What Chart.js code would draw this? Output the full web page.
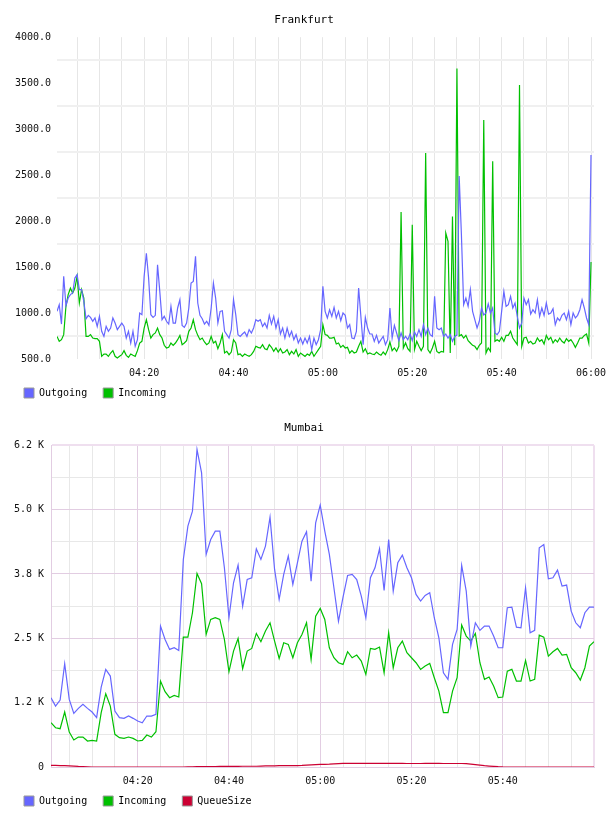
<!DOCTYPE html>
<html>
<head>
<meta charset="utf-8">
<title>Frankfurt / Mumbai</title>
<script src="https://cdn.jsdelivr.net/npm/chart.js@4.4.0/dist/chart.umd.min.js"></script>
<style>
  html, body { margin: 0; padding: 0; background: #fff; }
  canvas { display: block; }
</style>
</head>
<body>
<canvas id="frankfurtChart" width="608" height="408"></canvas>
<canvas id="mumbaiChart" width="608" height="408"></canvas>
<script>
// === Time axis (minutes after 04:00) ===
const timeTicks = [5, 10, 15, 20, 25, 30, 35, 40, 45, 50, 55, 60, 65, 70, 75, 80, 85, 90, 95, 100, 105, 110, 115, 120];
const frankfurtTimeAt = [20, 40, 60, 80, 100, 120];
const frankfurtTimeLabels = ["04:20", "04:40", "05:00", "05:20", "05:40", "06:00"];
const mumbaiTimeAt = [20, 40, 60, 80, 100];
const mumbaiTimeLabels = ["04:20", "04:40", "05:00", "05:20", "05:40"];

// Frankfurt: one sample every 30 s, starting 04:00:30
const frankfurtStart = 0.5;
const frankfurtStep = 0.5;
// Mumbai: one sample per minute, starting 04:01
const mumbaiStart = 1;
const mumbaiStep = 1;

// === Frankfurt values ===
const frankfurtOutgoing = [
  1018, 1090, 880, 1400, 1080, 1163, 1200, 1218, 1380, 1417,
  1254, 1254, 1127, 938, 975, 953, 910, 946, 855, 964,
  801, 746, 855, 801, 837, 946, 891, 819, 855, 891,
  855, 728, 801, 674, 801, 638, 710, 1000, 982, 1399,
  1650, 1380, 982, 953, 975, 1525, 1236, 928, 964, 910,
  880, 1073, 891, 891, 1055, 1145, 866, 844, 891, 1055,
  1326, 1344, 1616, 1109, 975, 938, 880, 910, 866, 1055,
  1326, 1163, 891, 1018, 1025, 801, 765, 728, 819, 1145,
  982, 765, 746, 772, 794, 746, 819, 783, 837, 928,
  910, 928, 855, 891, 837, 975, 880, 964, 837, 928,
  772, 837, 728, 837, 746, 801, 710, 765, 674, 728,
  663, 728, 674, 746, 602, 728, 656, 710, 819, 1290,
  1018, 946, 1036, 964, 1062, 946, 1018, 917, 1000, 975,
  837, 873, 728, 721, 801, 1272, 964, 656, 953, 837,
  772, 772, 692, 757, 674, 710, 746, 656, 710, 1055,
  728, 866, 783, 699, 783, 710, 746, 710, 772, 699,
  794, 746, 819, 746, 873, 765, 837, 765, 746, 1181,
  837, 819, 837, 746, 772, 728, 765, 692, 746, 760,
  2490, 1850, 1091, 1163, 1073, 1254, 1018, 928, 837, 910,
  1055, 980, 1000, 1100, 1000, 1055, 783, 765, 801, 1018,
  1236, 1073, 1091, 1181, 1055, 1109, 964, 837, 891, 1163,
  1091, 1145, 989, 1036, 1000, 1145, 964, 1055, 975, 1109,
  989, 1000, 1047, 873, 946, 917, 975, 1000, 928, 1018,
  873, 1000, 946, 975, 1036, 1145, 1055, 946, 873, 2720
];
const frankfurtIncoming = [
  746, 692, 710, 765, 1073, 1200, 1270, 1218, 1272, 1399,
  1109, 1254, 1163, 746, 746, 765, 728, 721, 721, 692,
  529, 554, 554, 529, 565, 591, 529, 511, 529, 547,
  591, 540, 518, 554, 540, 529, 591, 674, 692, 837,
  928, 819, 728, 765, 783, 837, 765, 728, 649, 620,
  627, 674, 649, 674, 710, 757, 656, 674, 699, 801,
  837, 928, 819, 757, 710, 728, 685, 656, 674, 746,
  674, 692, 612, 674, 765, 565, 583, 547, 576, 710,
  674, 547, 554, 529, 554, 540, 529, 547, 583, 638,
  627, 620, 656, 612, 602, 656, 627, 583, 620, 576,
  612, 565, 576, 602, 547, 583, 554, 602, 529, 565,
  547, 529, 554, 540, 583, 529, 565, 602, 638, 873,
  765, 757, 728, 728, 736, 663, 674, 627, 649, 620,
  627, 565, 591, 565, 576, 638, 692, 576, 612, 554,
  565, 554, 547, 576, 554, 540, 576, 547, 602, 685,
  591, 620, 583, 638, 2100, 620, 675, 612, 583, 1960,
  602, 692, 638, 591, 638, 2740, 602, 565, 620, 692,
  583, 565, 583, 576, 1870, 1780, 565, 2050, 650, 3660,
  750, 765, 728, 757, 699, 674, 649, 638, 602, 649,
  674, 3100, 565, 620, 583, 2650, 692, 710, 692, 736,
  692, 757, 757, 801, 728, 692, 656, 3480, 638, 728,
  736, 674, 692, 663, 674, 728, 692, 710, 663, 757,
  710, 736, 674, 710, 685, 728, 692, 674, 721, 692,
  710, 674, 627, 674, 728, 728, 757, 772, 674, 1555
];
const frankfurtYTicks = [500, 750, 1000, 1250, 1500, 1750, 2000, 2250, 2500, 2750, 3000, 3250, 3500, 3750, 4000];
const frankfurtYAt = [500, 1000, 1500, 2000, 2500, 3000, 3500, 4000];
const frankfurtYLabels = ["500.0", "1000.0", "1500.0", "2000.0", "2500.0", "3000.0", "3500.0", "4000.0"];

// === Mumbai values ===
const mumbaiOutgoing = [
  1346, 1184, 1300, 2006, 1313, 1042, 1139, 1216, 1139, 1068,
  958, 1553, 1896, 1766, 1087, 958, 945, 990, 945, 893,
  860, 990, 990, 1022, 2737, 2478, 2284, 2316, 2264, 4030,
  4678, 4969, 6166, 5713, 4128, 4419, 4581, 4581, 3869, 2900,
  3578, 3921, 3125, 3643, 3675, 4238, 4031, 4290, 4853, 3837,
  3254, 3740, 4096, 3546, 3966, 4387, 4568, 3610, 4742, 5085,
  4581, 4128, 3481, 2830, 3300, 3720, 3740, 3640, 3319, 2900,
  3675, 3869, 4238, 3429, 4419, 3416, 3966, 4115, 3869, 3675,
  3352, 3222, 3332, 3384, 2899, 2510, 1831, 1701, 2381, 2672,
  3914, 3416, 2349, 2801, 2653, 2737, 2737, 2543, 2316, 2316,
  3093, 3106, 2717, 2704, 3481, 2607, 2653, 4257, 4322, 3656,
  3675, 3824, 3513, 3533, 3028, 2801, 2704, 2996, 3106, 3106
];
const mumbaiIncoming = [
  860, 763, 744, 1068, 679, 524, 582, 582, 505, 518,
  505, 1055, 1423, 1184, 634, 569, 556, 582, 556, 505,
  518, 621, 582, 686, 1669, 1462, 1346, 1391, 1359, 2523,
  2523, 2996, 3760, 3560, 2575, 2866, 2899, 2866, 2478, 1850,
  2252, 2497, 1909, 2252, 2303, 2594, 2433, 2640, 2801, 2446,
  2109, 2413, 2381, 2122, 2413, 2575, 2801, 2090, 2931, 3080,
  2866, 2316, 2122, 2025, 1993, 2239, 2122, 2174, 2057, 1799,
  2303, 2284, 2329, 1831, 2607, 1928, 2316, 2446, 2219, 2122,
  2025, 1896, 1960, 2012, 1734, 1475, 1055, 1055, 1475, 1734,
  2756, 2543, 2446, 2594, 2025, 1702, 1747, 1572, 1346, 1359,
  1863, 1896, 1669, 1669, 2070, 1669, 1702, 2562, 2523, 2154,
  2239, 2303, 2174, 2187, 1928, 1831, 1689, 1928, 2349, 2433
];
const mumbaiQueueSize = [
  30, 30, 28, 25, 22, 18, 12, 8, 4, 0,
  0, 0, 0, 0, 0, 0, 0, 0, 0, 0,
  0, 0, 0, 0, 0, 0, 0, 0, 0, 0,
  5, 5, 8, 8, 10, 10, 10, 12, 12, 12,
  12, 12, 15, 15, 15, 15, 18, 20, 22, 22,
  25, 25, 25, 28, 28, 30, 35, 40, 45, 50,
  52, 55, 60, 65, 70, 70, 70, 72, 72, 72,
  70, 70, 70, 70, 72, 72, 70, 70, 68, 68,
  68, 68, 70, 70, 70, 70, 68, 68, 68, 68,
  68, 65, 55, 45, 35, 25, 18, 12, 6, 2,
  0, 0, 0, 0, 0, 0, 0, 0, 0, 0,
  0, 0, 0, 0, 0, 0, 0, 0, 0, 0
];
const mumbaiYTicks = [0, 625, 1250, 1875, 2500, 3125, 3750, 4375, 5000, 5625, 6250];
const mumbaiYAt = [0, 1250, 2500, 3750, 5000, 6250];
const mumbaiYLabels = ["0", "1.2 K", "2.5 K", "3.8 K", "5.0 K", "6.2 K"];

// === Shared look ===
const MONO = "'DejaVu Sans Mono', monospace";
Chart.defaults.font.family = MONO;
Chart.defaults.font.size = 10;
Chart.defaults.color = "#111";
Chart.defaults.animation = false;

const OUT_COLOR = "#6666ff";
const IN_COLOR = "#00c000";
const QUEUE_COLOR = "#cc0033";

function pick(values, labels, v) {
  const i = values.indexOf(v);
  return i < 0 ? "" : labels[i];
}

function series(values, start, step) {
  return values.map((v, i) => ({ x: start + i * step, y: v }));
}

function line(label, data, color) {
  return { label, data, borderColor: color, backgroundColor: color, borderWidth: 1.2, pointRadius: 0, fill: false, tension: 0 };
}

function makeChart(id, c) {
  return new Chart(document.getElementById(id), {
    type: "line",
    data: { datasets: c.datasets },
    options: {
      responsive: false,
      animation: false,
      layout: { padding: { left: 8, right: 8, top: 0, bottom: 0 } },
      plugins: {
        title: {
          display: true, text: c.title, color: "#000",
          font: { family: MONO, size: 11, weight: "normal" },
          padding: { top: 14, bottom: 10 }
        },
        legend: {
          position: "bottom", align: "start",
          labels: {
            boxWidth: 10, boxHeight: 10, padding: 16, color: "#000",
            font: { family: MONO, size: 10 },
            generateLabels: chart => chart.data.datasets.map((ds, i) => ({
              text: ds.label, fillStyle: ds.borderColor, strokeStyle: "#999",
              lineWidth: 1, hidden: false, datasetIndex: i, fontColor: "#000"
            }))
          }
        },
        tooltip: { enabled: false }
      },
      scales: {
        x: {
          type: "linear", min: c.xMin, max: c.xMax,
          afterBuildTicks: s => { s.ticks = timeTicks.map(v => ({ value: v })); },
          afterFit: s => {
            // the legend sits close under the axis, so keep the box short and let labels spill over
            s.height = 13; s.paddingLeft = 0; s.paddingRight = 14;
            s._computeLabelArea = () => undefined;
          },
          ticks: { autoSkip: false, maxRotation: 0, padding: 8, callback: v => pick(c.xAt, c.xLabels, v) },
          grid: { drawTicks: false, color: c.xGridColor, lineWidth: c.xGridWidth },
          border: c.xBorder
        },
        y: {
          min: c.yMin, max: c.yMax,
          afterBuildTicks: s => { s.ticks = c.yTicks.map(v => ({ value: v })); },
          afterFit: s => { s.width = c.yWidth; s.paddingTop = 0; s.paddingBottom = 0; },
          ticks: { autoSkip: false, padding: c.yPad, callback: v => pick(c.yAt, c.yLabels, v) },
          grid: { drawTicks: false, color: c.yGridColor, lineWidth: c.yGridWidth },
          border: c.yBorder
        }
      }
    }
  });
}

// === Frankfurt ===
makeChart("frankfurtChart", {
  title: "Frankfurt",
  datasets: [
    line("Outgoing", series(frankfurtOutgoing, frankfurtStart, frankfurtStep), OUT_COLOR),
    line("Incoming", series(frankfurtIncoming, frankfurtStart, frankfurtStep), IN_COLOR)
  ],
  xMin: 0.5, xMax: 120.67, xAt: frankfurtTimeAt, xLabels: frankfurtTimeLabels,
  xGridColor: "#e6e6e6", xGridWidth: 1, xBorder: { display: false },
  yMin: 500, yMax: 4000, yTicks: frankfurtYTicks, yAt: frankfurtYAt, yLabels: frankfurtYLabels,
  yWidth: 49, yPad: 6,
  yGridColor: ctx => (ctx.tick.value % 500 === 0 ? "rgba(0,0,0,0)" : "#f0f0f0"),
  yGridWidth: 2, yBorder: { display: false }
});

// === Mumbai ===
const PURPLE = "#e2cde2";
const PALE = "#e8e8e8";
const EDGE = "#efdfef";
makeChart("mumbaiChart", {
  title: "Mumbai",
  datasets: [
    line("Outgoing", series(mumbaiOutgoing, mumbaiStart, mumbaiStep), OUT_COLOR),
    line("Incoming", series(mumbaiIncoming, mumbaiStart, mumbaiStep), IN_COLOR),
    line("QueueSize", series(mumbaiQueueSize, mumbaiStart, mumbaiStep), QUEUE_COLOR)
  ],
  xMin: 1, xMax: 120, xAt: mumbaiTimeAt, xLabels: mumbaiTimeLabels,
  xGridColor: ctx => (ctx.tick.value === 120 ? EDGE : ctx.tick.value % 20 === 0 ? PURPLE : PALE),
  xGridWidth: ctx => (ctx.tick.value === 120 ? 2 : 1),
  xBorder: { display: true, color: PURPLE, width: 1 },
  yMin: 0, yMax: 6250, yTicks: mumbaiYTicks, yAt: mumbaiYAt, yLabels: mumbaiYLabels,
  yWidth: 43, yPad: 7,
  yGridColor: ctx => (ctx.tick.value === 6250 ? EDGE : ctx.tick.value % 1250 === 0 ? PURPLE : PALE),
  yGridWidth: ctx => (ctx.tick.value === 6250 ? 2 : 1),
  yBorder: { display: true, color: PURPLE, width: 1 }
});
</script>
</body>
</html>
